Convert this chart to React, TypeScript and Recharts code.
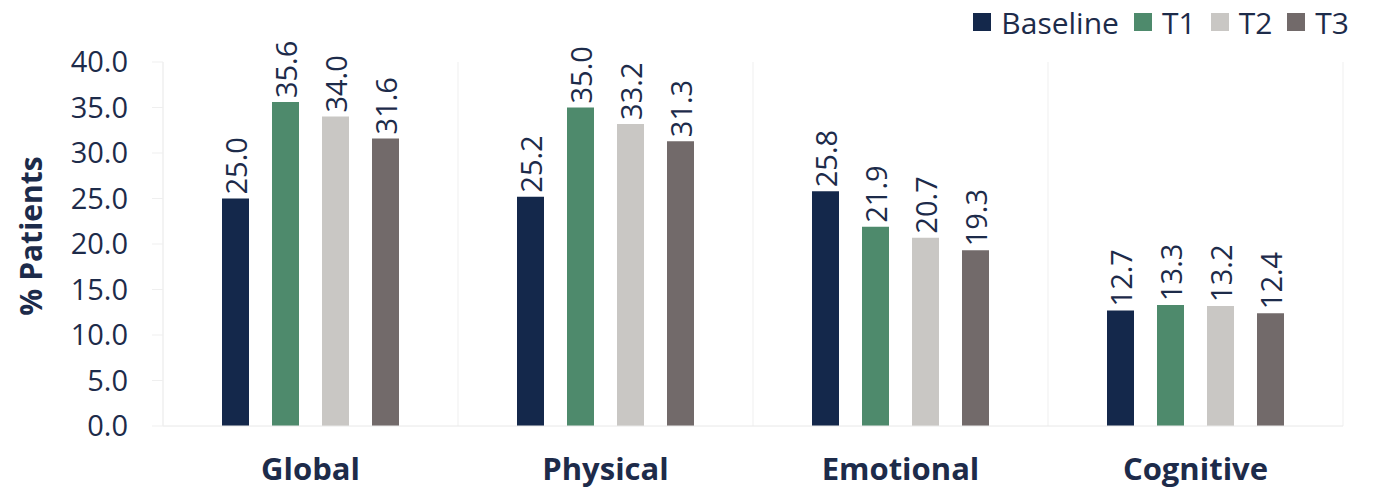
// @ts-nocheck
import { BarChart, Bar, XAxis, YAxis, CartesianGrid, Legend, LabelList } from "recharts";

const categories = ["Global", "Physical", "Emotional", "Cognitive"];
const baseline = [25.0, 25.2, 25.8, 12.7];
const t1 = [35.6, 35.0, 21.9, 13.3];
const t2 = [34.0, 33.2, 20.7, 13.2];
const t3 = [31.6, 31.3, 19.3, 12.4];
const yTicks = [0, 5, 10, 15, 20, 25, 30, 35, 40];

const seriesNames = ["Baseline", "T1", "T2", "T3"];
const colors = ["#14284b", "#4e8a6c", "#c9c7c4", "#726a6a"];

const data = categories.map((name, i) => ({
  name,
  Baseline: baseline[i],
  T1: t1[i],
  T2: t2[i],
  T3: t3[i],
}));

const FONT = "'Open Sans', 'DejaVu Sans', sans-serif";
const TEXT = "#1d2b4a";

const ValueLabel = (props) => {
  const { x, y, width, value } = props;
  const cx = x + width / 2;
  const ty = y - 4;
  return (
    <text
      x={cx}
      y={ty}
      transform={`rotate(-90 ${cx} ${ty})`}
      textAnchor="start"
      dominantBaseline="central"
      fontSize={29}
      fontFamily={FONT}
      fill={TEXT}
    >
      {Number(value).toFixed(1)}
    </text>
  );
};

const CatTick = ({ x, y, payload }) => (
  <text x={x} y={y + 46} textAnchor="middle" fontSize={31} fontWeight={700} fontFamily={FONT} fill={TEXT}>
    {payload.value}
  </text>
);

const LegendBox = () => (
  <div style={{ display: "flex", alignItems: "center", height: 44, fontFamily: FONT, fontSize: 30, color: TEXT }}>
    {seriesNames.map((s, i) => (
      <div key={s} style={{ display: "flex", alignItems: "center", marginLeft: i === 0 ? 0 : 15 }}>
        <span style={{ width: 18, height: 18, background: colors[i], display: "inline-block", marginRight: 10 }} />
        <span>{s}</span>
      </div>
    ))}
  </div>
);

export default function App() {
  return (
    <div style={{ position: "absolute", left: 0, top: 0, background: "#fff" }}>
      <BarChart
        width={1373}
        height={489}
        data={data}
        margin={{ top: 18, right: 30, bottom: 8, left: 43 }}
        barSize={27}
        barGap={23}
      >
        <CartesianGrid
          horizontal={false}
          stroke="#efefef"
          verticalCoordinatesGenerator={({ offset }) =>
            [0, 1, 2, 3, 4].map((k) => offset.left + (offset.width * k) / 4)
          }
        />
        <XAxis
          dataKey="name"
          height={55}
          tickLine={false}
          axisLine={{ stroke: "#e8e8e8" }}
          tick={<CatTick />}
          interval={0}
        />
        <YAxis
          width={120}
          domain={[0, 40]}
          ticks={yTicks}
          tickFormatter={(v) => v.toFixed(1)}
          axisLine={{ stroke: "#efefef" }}
          tickLine={{ stroke: "#efefef" }}
          tickSize={11}
          tickMargin={24}
          tick={{ fontSize: 29, fontFamily: FONT, fill: TEXT }}
          label={{
            value: "% Patients",
            angle: -90,
            position: "insideLeft",
            offset: -12,
            dy: -8,
            style: { fontSize: 30, fontWeight: 700, fontFamily: FONT, fill: TEXT, textAnchor: "middle" },
          }}
        />
        <Legend
          verticalAlign="top"
          align="right"
          content={<LegendBox />}
          wrapperStyle={{ top: 0, right: 24, left: "auto", width: "auto" }}
        />
        {seriesNames.map((s, i) => (
          <Bar key={s} dataKey={s} fill={colors[i]} isAnimationActive={false}>
            <LabelList dataKey={s} content={<ValueLabel />} />
          </Bar>
        ))}
      </BarChart>
    </div>
  );
}
